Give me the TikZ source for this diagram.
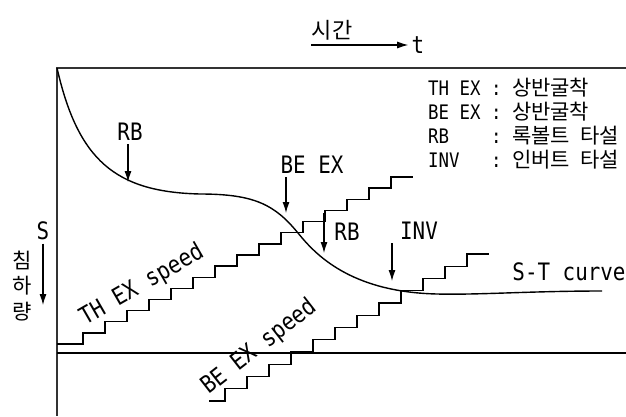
\documentclass[tikz,border=0pt]{standalone}
\usepackage{fontspec}
\setmainfont{DejaVu Sans Mono}[FakeStretch=0.87]
\newfontfamily\kr{Noto Sans CJK KR}
\usetikzlibrary{arrows.meta}
\newcommand\lgkr[1]{{\kr\fontsize{21}{22}\selectfont #1}}
\tikzset{
  lbl/.style={font=\fontsize{24}{26}\selectfont},
  krlbl/.style={font=\kr\fontsize{22}{24}\selectfont},
  stair/.style={line width=1.4pt},
  downarrow/.style={->,line width=1.1pt}
}
\begin{document}
\begin{tikzpicture}[x=1pt,y=-1pt,>={Latex[length=11pt,width=7pt]}]
	\useasboundingbox (0,0) rectangle (626,416);

	% frame and zero line
	\draw[line width=1.2pt,black!80] (626,68) -- (57,68) -- (57,416);
	\draw[line width=1.2pt] (57,353) -- (626,353);

	% time direction
	\node[krlbl] (time) at (332,30) {시간};
	\node[lbl] (t) at (418,45) {t};
	\coordinate (tstart) at (311,45);
	\draw[->,line width=1.1pt] (tstart) -- (t.west);

	% settlement axis
	\node[lbl] (s) at (43,231) {S};
	\node[font=\kr\fontsize{21}{25.5}\selectfont,align=center] (settle) at (22,286) {침\\하\\량};
	\coordinate (send) at (43,305);
	\draw[downarrow] (s.south) -- (send);

	% S-T curve
	\draw[line width=1.4pt] (57,68) .. controls (78,160) and (115,192) .. (200,194)
		.. controls (255,194) and (275,205) .. (298,233)
		.. controls (315,254) and (350,292) .. (437,294)
		.. controls (480,295) and (530,291) .. (602,291);

	% excavation speed
	\draw[stair] (57,344) -- (83,344) foreach \k in {1,...,15} { |- ++(22,-11.13) };
	\draw[stair] (209,401) -- (225,401) foreach \k in {1,...,12} { |- ++(22,-12.25) };

	\node[lbl,rotate=30] (thspeed) at (142,285) {TH EX speed};
	\node[lbl,rotate=38] (bespeed) at (259,347) {BE EX speed};
	\node[lbl] (curve) at (569,272) {S-T curve};

	% events
	\node[lbl] (rbA) at (130,132) {RB};
	\node[lbl] (beex) at (312,165) {BE EX};
	\node[lbl] (rbB) at (347,232) {RB};
	\node[lbl] (inv) at (419,231) {INV};

	\coordinate (rbAtip) at (128,182);
	\coordinate (beextip) at (286,213);
	\coordinate (rbBtop) at (324,213);
	\coordinate (rbBtip) at (324,253);
	\coordinate (invtop) at (392,243);
	\coordinate (invtip) at (392,281);

	\draw[downarrow] (rbAtip |- rbA.south) -- (rbAtip);
	\draw[downarrow] (beextip |- beex.south) -- (beextip);
	\draw[downarrow] (rbBtop) -- (rbBtip);
	\draw[downarrow] (invtop) -- (invtip);

	% legend
	\node[anchor=north west,inner sep=0pt,font=\fontsize{20}{22}\selectfont] (legend) at (428,78) {\begin{tabular}{@{}l@{\ :\ }l@{}}
		TH EX & \lgkr{상반굴착}\\
		BE EX & \lgkr{상반굴착}\\
		RB & \lgkr{록볼트\hspace{.5em}타설}\\
		INV & \lgkr{인버트\hspace{.5em}타설}
	\end{tabular}};

\end{tikzpicture}
\end{document}
